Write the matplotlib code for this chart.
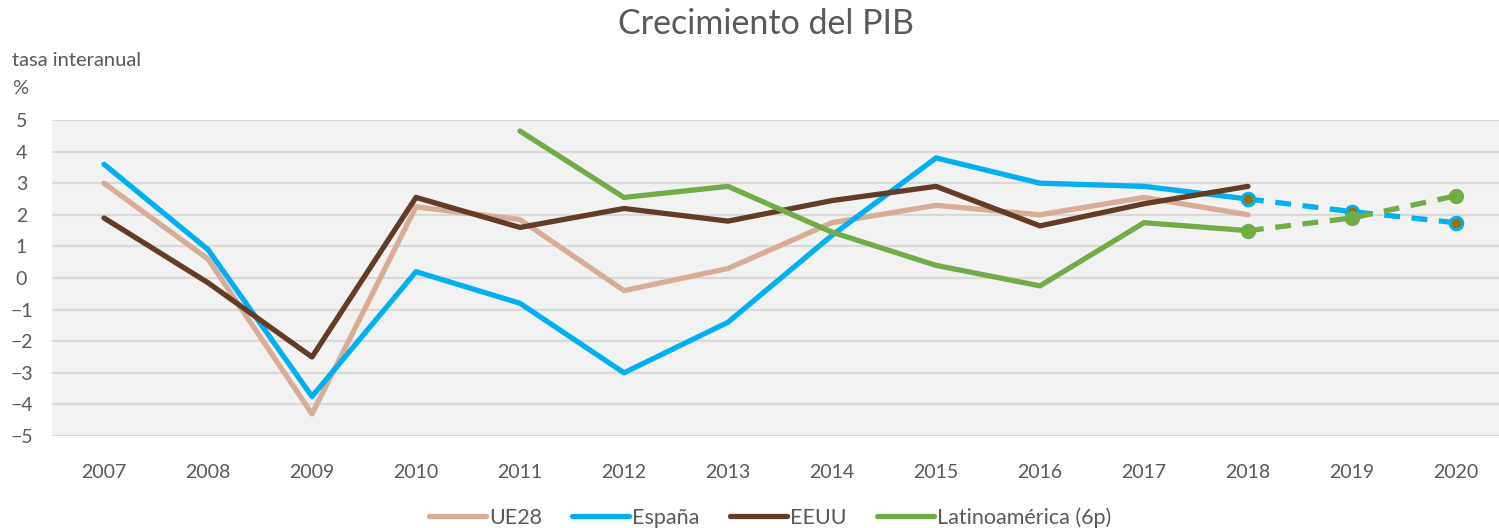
import numpy as np
import matplotlib
matplotlib.use("Agg")
import matplotlib.pyplot as plt

plt.rcParams['font.family'] = ['Lato', 'DejaVu Sans']

# datos (tasa interanual, %)
years = ['2007', '2008', '2009', '2010', '2011', '2012', '2013',
         '2014', '2015', '2016', '2017', '2018', '2019', '2020']
ue28 = [3.0, 0.6, -4.3, 2.25, 1.85, -0.4, 0.3, 1.75, 2.3, 2.0, 2.55, 2.0]
espana = [3.6, 0.9, -3.75, 0.2, -0.8, -3.0, -1.4, 1.35, 3.8, 3.0, 2.9, 2.5, 2.1, 1.75]
eeuu = [1.9, -0.15, -2.5, 2.55, 1.6, 2.2, 1.8, 2.45, 2.9, 1.65, 2.35, 2.9]
latam = [np.nan, np.nan, np.nan, np.nan, 4.65, 2.55, 2.9, 1.45, 0.4, -0.25,
         1.75, 1.5, 1.9, 2.6]
n_obs = 12  # hasta 2018 datos observados, 2019-2020 previsiones

c_ue = '#D9AC96'
c_es = '#00B0F0'
c_us = '#643B24'
c_la = '#70AD47'
c_txt = '#595959'

fig = plt.figure(figsize=(14.99, 5.28), dpi=100)
ax = fig.add_axes([52 / 1499, 92 / 528, 1456 / 1499, 316 / 528])
ax.set_facecolor('#F2F2F2')

x = np.arange(len(years))
lw = 3.8

ax.plot(x[:n_obs], ue28, color=c_ue, lw=lw, label='UE28', solid_capstyle='round', zorder=3)
ax.plot(x[:n_obs], espana[:n_obs], color=c_es, lw=lw, label='España', solid_capstyle='round', zorder=3)
ax.plot(x[:n_obs], eeuu, color=c_us, lw=lw, label='EEUU', solid_capstyle='round', zorder=3)
ax.plot(x[:n_obs], latam[:n_obs], color=c_la, lw=lw, label='Latinoamérica (6p)',
        solid_capstyle='round', zorder=3)

# previsiones
ax.plot(x[n_obs - 1:], espana[n_obs - 1:], color=c_es, lw=lw, ls=(0, (3, 2.2)),
        marker='o', ms=9, mfc='#9C7000', mec=c_es, mew=2.2, zorder=4)
ax.plot(x[n_obs - 1:], latam[n_obs - 1:], color=c_la, lw=lw, ls=(0, (3, 2.2)),
        marker='o', ms=10, mfc=c_la, mec=c_la, zorder=5)

ax.set_xlim(-0.5, len(years) - 0.5)
ax.set_ylim(-5, 5)
ax.set_yticks(range(-5, 6))
ax.set_xticks(x)
ax.set_xticklabels(years)
ax.grid(axis='y', color='#D9D9D9', lw=1.6, zorder=1)
ax.set_axisbelow(True)
for s in ax.spines.values():
    s.set_visible(False)
ax.tick_params(length=0, colors=c_txt, labelsize=14)
ax.tick_params(axis='x', pad=20)
ax.tick_params(axis='y', pad=22)
for lab in ax.get_yticklabels():
    lab.set_horizontalalignment('center')

fig.text(0.511, 0.955, 'Crecimiento del PIB', ha='center', va='center',
         fontsize=24.5, color=c_txt)
fig.text(12 / 1499, 1 - 60 / 528, 'tasa interanual', ha='left', va='center',
         fontsize=14.5, color=c_txt)
fig.text(12 / 1499, 1 - 88 / 528, '%', ha='left', va='center',
         fontsize=14.5, color=c_txt)

fig.legend(loc='center', bbox_to_anchor=(0.5137, 0.02), ncol=4, frameon=False,
           fontsize=15.5, handlelength=2.65, handletextpad=0.15, columnspacing=1.4,
           labelcolor=c_txt)

fig.savefig('out.png', dpi=100)
